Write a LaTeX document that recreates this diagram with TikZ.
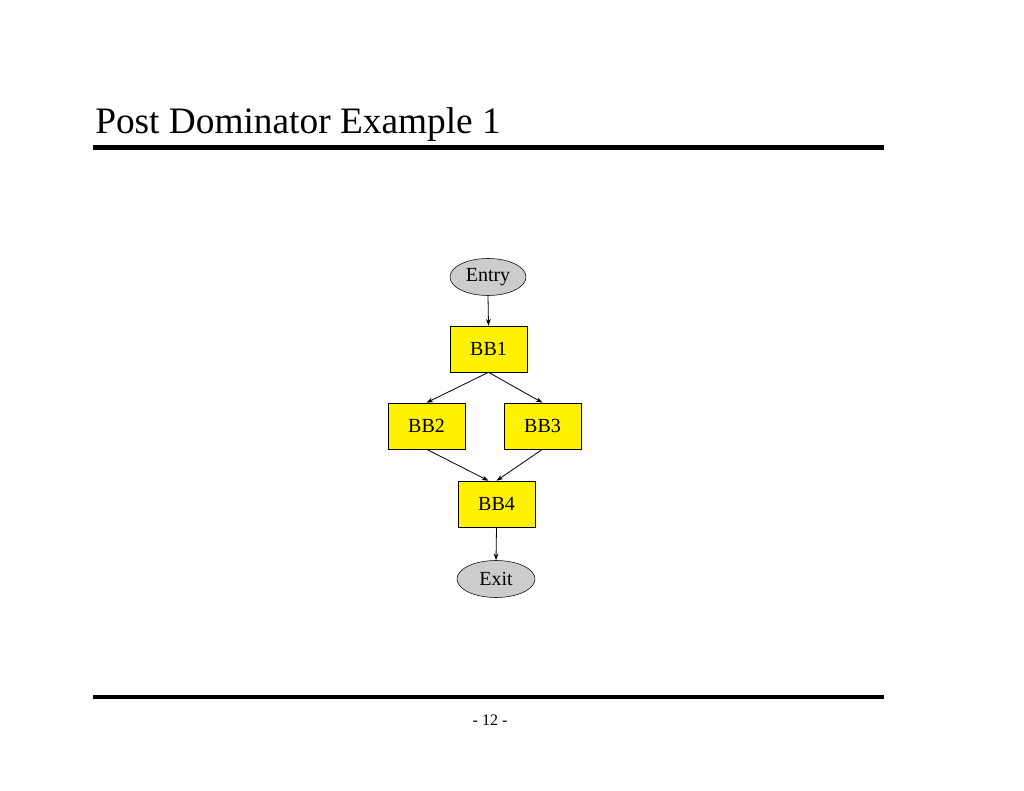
\documentclass[tikz,border=0pt]{standalone}
\usepackage{fontspec}
\setmainfont{Liberation Serif}
\usetikzlibrary{shapes.geometric,arrows.meta,calc}
\begin{document}
\begin{tikzpicture}[x=0.75pt,y=-0.75pt,
  bb/.style={draw,fill=yellow,minimum width=77*0.75pt,minimum height=46*0.75pt,inner sep=0pt,font=\fontsize{15}{18}\selectfont},
  term/.style={draw,ellipse,fill=black!20,minimum width=76*0.75pt,minimum height=37*0.75pt,inner sep=0pt,font=\fontsize{15}{18}\selectfont},
  arr/.style={-{Stealth[length=5pt,width=3.5pt]},line width=0.6pt}]
\useasboundingbox (0,0) rectangle (1024,791);
\node[anchor=base west,font=\fontsize{28}{32}\selectfont,inner sep=0pt] (title) at (95,134) {Post Dominator Example 1};
\fill (93,145) rectangle (884,150);
\fill (93,695) rectangle (884,699);
\node[font=\fontsize{12}{14}\selectfont] (pg) at (490,720) {- 12 -};
\node[term] (entry) at (488,277) {Entry};
\node[bb] (bb1) at (488.5,349) {BB1};
\node[bb] (bb2) at (426.5,426) {BB2};
\node[bb] (bb3) at (542.5,426) {BB3};
\node[bb] (bb4) at (496.5,504) {BB4};
\node[term,minimum width=78*0.75pt] (exit) at (496,579) {Exit};
\draw[arr] (entry.south) -- (bb1.north);
\draw[arr] (bb1.south) -- (bb2.north);
\draw[arr] (bb1.south) -- (bb3.north);
\draw[arr] (bb2.south) -- ($(bb4.north)+(-8,0)$);
\draw[arr] (bb3.south) -- (bb4.north);
\draw[arr] (bb4.south) -- (exit.north);
\end{tikzpicture}
\end{document}
